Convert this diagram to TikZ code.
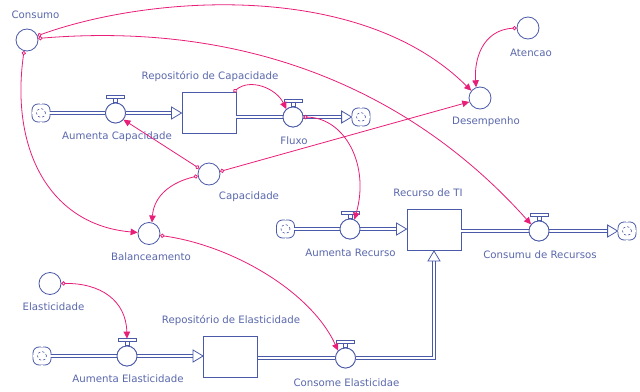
\documentclass[tikz,border=0pt]{standalone}
\usepackage{fontspec}
\setmainfont{DejaVu Sans}
\usetikzlibrary{arrows.meta}
\definecolor{sfblue}{RGB}{74,90,168}
\definecolor{sftext}{RGB}{90,104,172}
\definecolor{sflink}{RGB}{232,30,120}

% top marker of a flow valve
\newcommand\valvecap[1]{%
  \draw[sfblue,line width=0.7pt,fill=white] ([xshift=-2pt]#1.north) rectangle ([xshift=2pt,yshift=4pt]#1.north);
  \draw[sfblue,line width=0.7pt,fill=white] ([xshift=-9pt,yshift=4pt]#1.north) rectangle ([xshift=9pt,yshift=7pt]#1.north);
}
% inner marks of a source/sink cloud
\newcommand\cloudmarks[1]{%
  \draw[sfblue,line width=0.6pt,dash pattern=on 2.2pt off 2.2pt] (#1) circle (4.5pt);
  \draw[white,line width=1.2pt] ([yshift=9pt]#1.center) -- ++(0,-1.5) ([yshift=-9pt]#1.center) -- ++(0,1.5)
        ([xshift=9pt]#1.center) -- ++(-1.5,0) ([xshift=-9pt]#1.center) -- ++(1.5,0);
}

\begin{document}
\begin{tikzpicture}[x=1pt,y=-1pt,
  every node/.style={inner sep=0pt},
  aux/.style={circle,draw=sfblue,fill=white,line width=0.8pt,minimum size=22pt},
  valve/.style={circle,draw=sfblue,fill=white,line width=0.8pt,minimum size=20pt},
  stock/.style={rectangle,draw=sfblue,fill=white,line width=0.9pt,minimum width=54pt,minimum height=41pt},
  sinkbox/.style={rectangle,rounded corners=6pt,draw=sfblue,fill=white,line width=0.8pt,minimum size=18pt},
  lbl/.style={text=sftext,font=\fontsize{10.2}{12}\selectfont},
  pipe/.style={draw=sfblue,double=white,double distance=2.6pt,line width=0.8pt,line join=miter},
  tiphead/.style={draw=sfblue,fill=white,line width=0.8pt,line join=miter},
  link/.style={draw=sflink,line width=0.8pt,
    {Circle[open,length=4.2pt,width=4.2pt]}-{Triangle[length=7pt,width=6.5pt]}},
]
\useasboundingbox[fill=white] (0,0) rectangle (640,391);

% ---------- stocks ----------
\node[stock] (rc) at (209,113) {};
\node[stock] (rti) at (434,230) {};
\node[stock] (rel) at (230.5,357) {};

% ---------- sources and sinks ----------
\node[sinkbox] (cl1) at (41,113) {};
\node[sinkbox] (cl2) at (361,117) {};
\node[sinkbox] (cl3) at (285.5,229) {};
\node[sinkbox] (cl4) at (627,231) {};
\node[sinkbox] (cl5) at (42,356) {};
\foreach \c in {cl1,cl2,cl3,cl4,cl5} {\cloudmarks{\c}}

% ---------- flow valves ----------
\node[valve] (ac) at (115.5,113) {};
\node[valve] (fl) at (293,117) {};
\node[valve] (ar) at (350,229) {};
\node[valve] (cdr) at (539,231) {};
\node[valve] (ae) at (127,356) {};
\node[valve] (ce) at (345.5,358) {};

% ---------- pipes ----------
\draw[pipe] (cl1) -- (ac);
\draw[pipe] (ac) -- ([xshift=-10pt]rc.west |- ac);
\draw[tiphead] (rc.west |- ac) -- ++(-10,-6) -- ++(0,12) -- cycle;

\draw[pipe] (rc.east |- fl) -- (fl);
\draw[pipe] (fl) -- ([xshift=-10pt]cl2.west);
\draw[tiphead] (cl2.west) -- ++(-10,-6) -- ++(0,12) -- cycle;

\draw[pipe] (cl3) -- (ar);
\draw[pipe] (ar) -- ([xshift=-10pt]rti.west |- ar);
\draw[tiphead] (rti.west |- ar) -- ++(-10,-6) -- ++(0,12) -- cycle;

\draw[pipe] (rti.east |- cdr) -- (cdr);
\draw[pipe] (cdr) -- ([xshift=-10pt]cl4.west);
\draw[tiphead] (cl4.west) -- ++(-10,-6) -- ++(0,12) -- cycle;

\draw[pipe] (cl5) -- (ae);
\draw[pipe] (ae) -- ([xshift=-10pt]rel.west |- ae);
\draw[tiphead] (rel.west |- ae) -- ++(-10,-6) -- ++(0,12) -- cycle;

\draw[pipe] (rel.east |- ce) -- (ce);
\draw[pipe] (ce) -- (ce -| rti) -- ([yshift=-10pt]rti.south);
\draw[tiphead] (rti.south) -- ++(-6,10) -- ++(12,0) -- cycle;

% redraw valves over the pipes
\foreach \v in {ac,fl,ar,cdr,ae,ce} {
  \draw[sfblue,line width=0.8pt,fill=white] (\v) circle (10pt);
  \valvecap{\v}
}

% ---------- auxiliaries ----------
\node[aux] (cons) at (27,40) {};
\node[aux] (cap) at (209,174) {};
\node[aux] (des) at (480,98) {};
\node[aux] (ate) at (528,28) {};
\node[aux] (bal) at (149,233.5) {};
\node[aux] (ela) at (50,283.5) {};

% ---------- labels ----------
\node[lbl] (t-cons) at (35.5,15) {Consumo};
\node[lbl] (t-rc) at (210,76) {Repositório de Capacidade};
\node[lbl] (t-ac) at (117,137) {Aumenta Capacidade};
\node[lbl] (t-fl) at (294,141) {Fluxo};
\node[lbl] (t-cap) at (249,197) {Capacidade};
\node[lbl] (t-des) at (486,122) {Desempenho};
\node[lbl] (t-ate) at (531,53) {Atencao};
\node[lbl] (t-rti) at (428,193) {Recurso de TI};
\node[lbl] (t-ar) at (350.5,253) {Aumenta Recurso};
\node[lbl] (t-cdr) at (540,255) {Consumu de Recursos};
\node[lbl] (t-bal) at (151,257) {Balanceamento};
\node[lbl] (t-ela) at (53.5,307) {Elasticidade};
\node[lbl] (t-rel) at (231,320) {Repositório de Elasticidade};
\node[lbl] (t-ae) at (128,379) {Aumenta Elasticidade};
\node[lbl] (t-ce) at (346.5,383) {Consome Elasticidae};

% ---------- information links ----------
\draw[link] (cons.22) .. controls (150,-5) and (360,-20) .. (des.140);
\draw[link] (cons.8) .. controls (260,20) and (420,100) .. (cdr.140);
\draw[link] (cons.-105) .. controls (10,150) and (50,225) .. (bal.175);
\draw[link] (cap.150) -- (ac.-40);
\draw[link] (cap.190) .. controls (172,182) and (154,195) .. (bal.75);
\draw[link] (cap.13) -- (des.200);
\draw[link] ([xshift=-3pt]rc.north east) .. controls (250,78) and (276,88) .. (fl.130);
\draw[link] (fl.0) .. controls (345,118) and (370,165) .. (ar.65);
\draw[link] (ate.180) .. controls (482,30) and (474,60) .. (des.110);
\draw[link] (bal.-10) .. controls (230,245) and (310,290) .. (ce.135);
\draw[link] (ela.0) .. controls (100,283) and (126,300) .. ([yshift=7pt]ae.north);
\end{tikzpicture}
\end{document}
